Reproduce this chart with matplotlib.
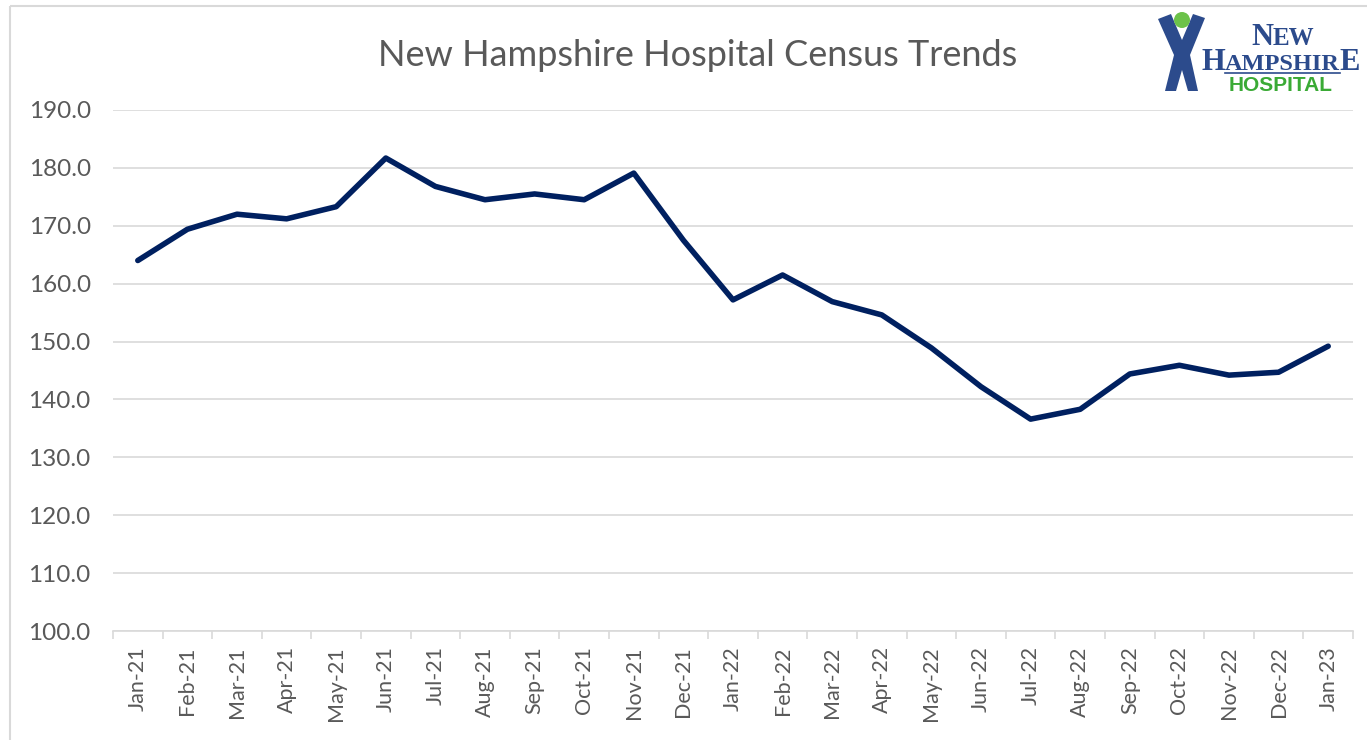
import numpy as np
import matplotlib
matplotlib.use('Agg')
import matplotlib.pyplot as plt
from matplotlib.patches import Rectangle, Circle, Polygon

# Monthly census values
months = ['Jan-21', 'Feb-21', 'Mar-21', 'Apr-21', 'May-21', 'Jun-21', 'Jul-21',
          'Aug-21', 'Sep-21', 'Oct-21', 'Nov-21', 'Dec-21', 'Jan-22', 'Feb-22',
          'Mar-22', 'Apr-22', 'May-22', 'Jun-22', 'Jul-22', 'Aug-22', 'Sep-22',
          'Oct-22', 'Nov-22', 'Dec-22', 'Jan-23']
census = [164.0, 169.4, 172.0, 171.2, 173.3, 181.7, 176.8,
          174.5, 175.5, 174.5, 179.1, 167.5, 157.2, 161.5,
          156.9, 154.6, 148.9, 142.2, 136.6, 138.3, 144.4,
          145.9, 144.2, 144.7, 149.2]
y_ticks = [100, 110, 120, 130, 140, 150, 160, 170, 180, 190]

title = 'New Hampshire Hospital Census Trends'
FONT = 'Lato'
GRAY = '#595959'
GRID = '#d9d9d9'
NAVY = '#002060'

W, H = 1367, 740
fig = plt.figure(figsize=(W / 100, H / 100), dpi=100)
fig.patch.set_facecolor('white')

# chart area (pixel coordinates converted to figure fractions)
left, right, top, bottom = 113, 1353, 110, 631
ax = fig.add_axes([left / W, 1 - bottom / H, (right - left) / W, (bottom - top) / H])

x = np.arange(len(months))
ax.plot(x, census, color=NAVY, lw=4.0, solid_capstyle='round', solid_joinstyle='round', zorder=3)

ax.set_xlim(-0.5, len(months) - 0.5)
ax.set_ylim(min(y_ticks), max(y_ticks))
ax.set_yticks(y_ticks)
ax.set_yticklabels([f'{v:.1f}' for v in y_ticks], fontfamily=FONT)
ax.yaxis.grid(True, color=GRID, lw=1.2)
ax.set_axisbelow(True)

for s in ['top', 'right', 'left']:
    ax.spines[s].set_visible(False)
ax.spines['bottom'].set_color(GRID)
ax.spines['bottom'].set_linewidth(1.2)

ax.tick_params(axis='y', length=0, pad=16, labelsize=17.5, labelcolor=GRAY)

# tick marks between categories, labels at category centres
ax.set_xticks(np.arange(-0.5, len(months), 1))
ax.set_xticklabels([])
ax.set_xticks(x, minor=True)
ax.set_xticklabels(months, minor=True, rotation=90, fontfamily=FONT)
ax.tick_params(axis='x', which='major', length=6, color=GRID, width=1.2)
ax.tick_params(axis='x', which='minor', length=0, pad=11, labelsize=15.5, labelcolor=GRAY)

# overlay in pixel coordinates for border, title and logo
ov = fig.add_axes([0, 0, 1, 1], zorder=-1)
ov.set_xlim(0, W)
ov.set_ylim(H, 0)
ov.axis('off')
ov.add_patch(Rectangle((10, 6), W + 20, H + 20, fill=False, edgecolor=GRID, lw=1.5))

ov.text(698, 55, title, ha='center', va='center', fontsize=26, color=GRAY, fontfamily=FONT)

# logo: figure icon
LOGO_BLUE = '#2c4b8c'
LOGO_GREEN = '#3aaa35'
body = [(1158, 19), (1171, 14), (1182, 40), (1193, 14), (1205, 18), (1190, 55),
        (1198, 91), (1188, 91), (1182, 70), (1176, 91), (1165, 91), (1174, 55)]
ov.add_patch(Polygon(body, closed=True, facecolor=LOGO_BLUE, edgecolor='none'))
ov.add_patch(Circle((1182, 20), 8, facecolor='#6cc24a', edgecolor='none'))

serif = 'Liberation Serif'
renderer = fig.canvas.get_renderer()


def chain(parts, x0, base):
    # place text pieces one after another on the same baseline
    xpos = x0
    for txt, size in parts:
        t = ov.text(xpos, base, txt, fontsize=size, fontweight='bold', color=LOGO_BLUE,
                    fontfamily=serif, va='baseline', ha='left')
        bb = t.get_window_extent(renderer)
        xpos += bb.width


chain([('N', 22), ('EW', 18)], 1251, 45)
chain([('H', 22), ('AMPSHIR', 17.5), ('E', 22)], 1201, 70)
ov.plot([1225, 1340], [73, 73], color=LOGO_BLUE, lw=1.2)
ov.text(1281, 91, 'HOSPITAL', fontsize=15, fontweight='bold', color=LOGO_GREEN,
        fontfamily='Liberation Sans', ha='center', va='baseline')

fig.savefig('out.png', dpi=100, facecolor='white')
